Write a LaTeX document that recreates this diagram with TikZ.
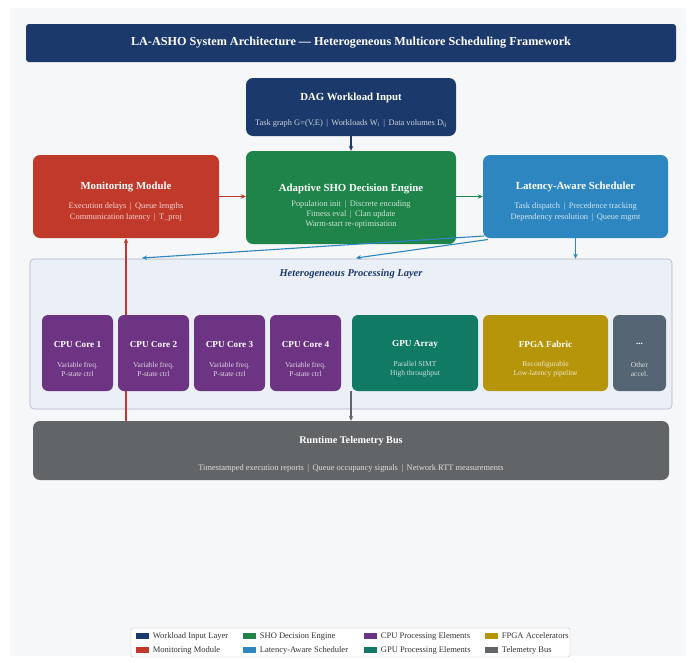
\documentclass[tikz,border=0pt]{standalone}
\usepackage{fontspec}
\setmainfont{Liberation Serif}
\usepackage{tikz}
\usetikzlibrary{arrows.meta, positioning, calc}
\definecolor{InNavy}{HTML}{1B3A6B}
\definecolor{MonRed}{HTML}{C0392B}
\definecolor{ShoGreen}{HTML}{1E8449}
\definecolor{SchBlue}{HTML}{2E86C1}
\definecolor{CpuPurple}{HTML}{6C3483}
\definecolor{GpuTeal}{HTML}{117A65}
\definecolor{FpgaGold}{HTML}{B7950B}
\definecolor{OthSlate}{HTML}{566573}
\definecolor{TelGrey}{HTML}{626567}
\definecolor{LayerFill}{HTML}{EBEFF7}
\definecolor{LayerLine}{HTML}{AEB6C4}
\definecolor{PageBg}{HTML}{F6F7F9}

\begin{document}
\begin{tikzpicture}[x=1pt, y=-1pt,
  blk/.style={rounded corners=7pt, inner sep=0pt},
  core/.style={rounded corners=6pt, inner sep=0pt, minimum width=71pt, minimum height=76pt},
  ttl/.style={font=\bfseries\fontsize{10.8}{12}\selectfont, text=white},
  cttl/.style={font=\bfseries\fontsize{9.2}{11}\selectfont, text=white},
  sub/.style={font=\fontsize{8.4}{10.2}\selectfont, text=white, text opacity=0.78, align=center},
  csub/.style={font=\fontsize{7.5}{9}\selectfont, text=white, text opacity=0.78, align=center},
  sw/.style={minimum width=13pt, minimum height=5.5pt, inner sep=0pt},
  lgt/.style={font=\fontsize{8.5}{10}\selectfont, text=black!80, inner sep=0pt, text height=6pt, text depth=2pt, anchor=west},
  ar/.style={-{Stealth[length=5pt, width=4.5pt]}, line width=1.1pt}]
\useasboundingbox (0,0) rectangle (694,662);
\fill[white] (0,0) rectangle (694,662);
\fill[PageBg] (10,8) rectangle (686,656);
% title bar
\node[blk, rounded corners=3pt, fill=InNavy, minimum width=650pt, minimum height=38pt] (title) at (351,43) {};
\node[font=\bfseries\fontsize{12.2}{14}\selectfont, text=white] (titleT) at (title.center) {LA-ASHO System Architecture --- Heterogeneous Multicore Scheduling Framework};
% top row
\node[blk, fill=InNavy, minimum width=210pt, minimum height=58pt] (dag) at (351,107) {};
\node[ttl] (dagT) at (351,98) {DAG Workload Input};
\node[sub] (dagS) at (351,124) {Task graph G=(V,E) \,|\, Workloads W\textsubscript{i} \,|\, Data volumes D\textsubscript{ij}};
\node[blk, fill=MonRed, minimum width=186pt, minimum height=83pt] (mon) at (126,196.5) {};
\node[ttl] (monT) at (126,187) {Monitoring Module};
\node[sub] (monS) at (126,212) {Execution delays \,|\, Queue lengths\\Communication latency \,|\, T\_proj};
\node[blk, fill=ShoGreen, minimum width=210pt, minimum height=93pt] (sho) at (351,197.5) {};
\node[ttl] (shoT) at (351,189) {Adaptive SHO Decision Engine};
\node[sub] (shoS) at (351,214.5) {Population init \,|\, Discrete encoding\\Fitness eval \,|\, Clan update\\Warm-start re-optimisation};
\node[blk, fill=SchBlue, minimum width=185pt, minimum height=83pt] (sch) at (575.5,196.5) {};
\node[ttl] (schT) at (575.5,187) {Latency-Aware Scheduler};
\node[sub] (schS) at (575.5,212) {Task dispatch \,|\, Precedence tracking\\Dependency resolution \,|\, Queue mgmt};
% processing layer
\node[blk, rounded corners=4pt, fill=LayerFill, draw=LayerLine, line width=0.6pt, minimum width=642pt, minimum height=150pt] (layer) at (351,334) {};
\node[font=\bfseries\itshape\fontsize{10.5}{12}\selectfont, text=InNavy] (layerT) at (351,274) {Heterogeneous Processing Layer};
% telemetry
\node[blk, fill=TelGrey, minimum width=636pt, minimum height=59pt] (tel) at (351,450.5) {};
\node[ttl, font=\bfseries\fontsize{10.2}{12}\selectfont] (telT) at (351,441) {Runtime Telemetry Bus};
\node[sub] (telS) at (351,468) {Timestamped execution reports \,|\, Queue occupancy signals \,|\, Network RTT measurements};
% connectors
\coordinate (inA) at (142,258);
\coordinate (inB) at (356,258);
\coordinate (outA) at (484,236);
\coordinate (outB) at (488,239.5);
\coordinate (busIn) at (351,391);
\draw[ar, InNavy] (dag) -- (sho);
\draw[ar, MonRed] (mon.east) -- (mon.east -| sho.west);
\draw[ar, ShoGreen] (sho.east |- sch.west) -- (sch.west);
\draw[ar, SchBlue] (outA) -- (inA);
\draw[ar, SchBlue] (outB) -- (inB);
\draw[ar, SchBlue] (sch.south) -- (sch.south |- layer.north);
\draw[ar, MonRed] (tel.north -| mon.south) -- (mon.south);
\draw[ar, TelGrey] (busIn) -- (busIn |- tel.north);
% processing elements
\node[core, fill=CpuPurple] (cpu1) at (77.5,353) {};
\node[core, fill=CpuPurple] (cpu2) at (153.5,353) {};
\node[core, fill=CpuPurple] (cpu3) at (229.5,353) {};
\node[core, fill=CpuPurple] (cpu4) at (305.5,353) {};
\node[core, fill=GpuTeal, minimum width=126pt] (gpu) at (415,353) {};
\node[core, fill=FpgaGold, minimum width=125pt] (fpga) at (545.5,353) {};
\node[core, fill=OthSlate, minimum width=53pt] (oth) at (639.5,353) {};
\node[cttl] at (77.5,344) {CPU Core 1};
\node[cttl] at (153.5,344) {CPU Core 2};
\node[cttl] at (229.5,344) {CPU Core 3};
\node[cttl] at (305.5,344) {CPU Core 4};
\node[csub] at (77.5,369.5) {Variable freq.\\P-state ctrl};
\node[csub] at (153.5,369.5) {Variable freq.\\P-state ctrl};
\node[csub] at (229.5,369.5) {Variable freq.\\P-state ctrl};
\node[csub] at (305.5,369.5) {Variable freq.\\P-state ctrl};
\node[cttl] at (415,344) {GPU Array};
\node[csub] at (415,369.5) {Parallel SIMT\\High throughput};
\node[cttl] at (545.5,344) {FPGA Fabric};
\node[csub] at (545.5,369.5) {Reconfigurable\\Low-latency pipeline};
\node[cttl] at (639.5,344) {...};
\node[csub] at (639.5,369.5) {Other\\accel.};
% legend
\node[draw=black!25, fill=white, rounded corners=1.5pt, minimum width=439pt, minimum height=29pt, inner sep=0pt] (legend) at (350.5,642.5) {};
\node[sw, fill=InNavy] (lg1) at (142,636) {};
\node[lgt, right=4pt of lg1] {Workload Input Layer};
\node[sw, fill=MonRed] (lg2) at (142,650) {};
\node[lgt, right=4pt of lg2] {Monitoring Module};
\node[sw, fill=ShoGreen] (lg3) at (249,636) {};
\node[lgt, right=4pt of lg3] {SHO Decision Engine};
\node[sw, fill=SchBlue] (lg4) at (249,650) {};
\node[lgt, right=4pt of lg4] {Latency-Aware Scheduler};
\node[sw, fill=CpuPurple] (lg5) at (370,636) {};
\node[lgt, right=4pt of lg5] {CPU Processing Elements};
\node[sw, fill=GpuTeal] (lg6) at (370,650) {};
\node[lgt, right=4pt of lg6] {GPU Processing Elements};
\node[sw, fill=FpgaGold] (lg7) at (491,636) {};
\node[lgt, right=4pt of lg7] {FPGA Accelerators};
\node[sw, fill=TelGrey] (lg8) at (491,650) {};
\node[lgt, right=4pt of lg8] {Telemetry Bus};
\end{tikzpicture}
\end{document}
